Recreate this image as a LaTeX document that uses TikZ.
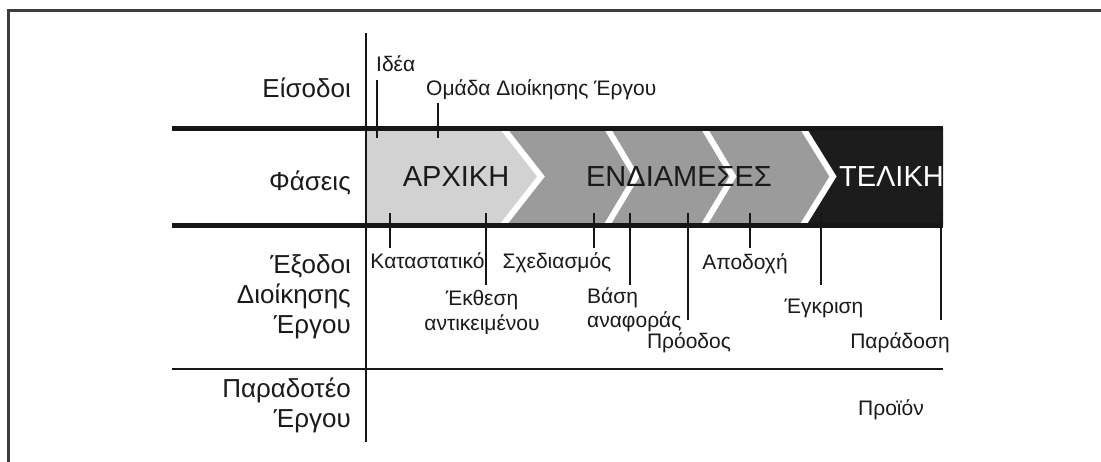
\documentclass[tikz,border=0pt]{standalone}
\usepackage{fontspec}
\setmainfont{Liberation Sans}
\definecolor{lightband}{HTML}{D2D2D2}
\definecolor{midband}{HTML}{9B9B9B}
\definecolor{darkband}{HTML}{1C1C1C}
\definecolor{rulecol}{HTML}{161616}
\definecolor{framecol}{HTML}{3C3C3C}
\definecolor{inkcol}{HTML}{1A1A1A}
\tikzset{
  frameline/.style={draw=framecol, line width=3pt},
  thickrule/.style={draw=rulecol, line width=5pt},
  thinrule/.style={draw=rulecol, line width=2.5pt},
  axisline/.style={draw=rulecol, line width=2.5pt},
  tickline/.style={draw=rulecol, line width=2pt},
  stripe/.style={draw=white, line width=6pt, line join=miter},
  sidelabel/.style={font=\fontsize{26}{30}\selectfont, text=inkcol, inner sep=0pt, anchor=base east},
  phaselabel/.style={font=\fontsize{29}{32}\selectfont, text=inkcol, inner sep=0pt, anchor=base},
  smalllabel/.style={font=\fontsize{21}{24}\selectfont, text=inkcol, inner sep=0pt, anchor=base},
}
\begin{document}
\begin{tikzpicture}[x=1pt, y=-1pt]
\useasboundingbox (0,0) rectangle (1101,461);
\fill[white] (0,0) rectangle (1101,461);

% outer frame
\draw[frameline] (8.5,475) -- (8.5,10.5) -- (1115,10.5);

% phase band
\fill[midband] (366,128) rectangle (943,225);
\fill[lightband] (366,128) -- (503,128) -- (541,176.5) -- (503,225) -- (366,225) -- cycle;
\fill[darkband] (803,128) -- (833,176.5) -- (803,225) -- (943,225) -- (943,128) -- cycle;
\draw[stripe] (503,128) -- (541,176.5) -- (503,225);
\draw[stripe] (607,128) -- (636,176.5) -- (607,225);
\draw[stripe] (704,128) -- (733,176.5) -- (704,225);
\draw[stripe] (803,128) -- (833,176.5) -- (803,225);

% grid lines
\coordinate (r1w) at (172,128);  \coordinate (r1e) at (943,128);
\coordinate (r2w) at (172,225);  \coordinate (r2e) at (943,225);
\coordinate (r3w) at (172,369);  \coordinate (r3e) at (943,369);
\coordinate (axt) at (366,33);   \coordinate (axb) at (366,442);
\draw[thickrule] (r1w) -- (r1e);
\draw[thickrule] (r2w) -- (r2e);
\draw[thinrule] (r3w) -- (r3e);
\draw[axisline] (axt) -- (axb);

% row titles
\node[sidelabel] (inputs) at (351,97) {Είσοδοι};
\node[sidelabel] (phases) at (351,190) {Φάσεις};
\node[sidelabel] (out1) at (351,273) {Έξοδοι};
\node[sidelabel] (out2) at (351,303) {Διοίκησης};
\node[sidelabel] (out3) at (351,333) {Έργου};
\node[sidelabel] (del1) at (351,397) {Παραδοτέο};
\node[sidelabel] (del2) at (351,427) {Έργου};

% phase names
\node[phaselabel] (ph1) at (456,186) {ΑΡΧΙΚΗ};
\node[phaselabel] (ph2) at (679,186) {ΕΝΔΙΑΜΕΣΕΣ};
\node[phaselabel, text=white, anchor=base east] (ph3) at (944,186) {ΤΕΛΙΚΗ};

% inputs
\coordinate (i1t) at (377,80);    \coordinate (i1b) at (377,138);
\coordinate (i2t) at (437.5,103); \coordinate (i2b) at (437.5,138);
\draw[tickline] (i1t) -- (i1b);
\draw[tickline] (i2t) -- (i2b);
\node[smalllabel, anchor=base west] (idea) at (376,71) {Ιδέα};
\node[smalllabel, anchor=base west] (team) at (426,95) {Ομάδα Διοίκησης Έργου};

% management outputs
\foreach \n/\x/\y in {o1/389.5/248, o2/486/285, o3/594/248, o4/630/285,
                      o5/687.5/320, o6/750/248, o7/821/285, o8/941/320}{
  \coordinate (\n t) at (\x,213);
  \coordinate (\n b) at (\x,\y);
  \draw[tickline] (\n t) -- (\n b);
}
\node[smalllabel] (charter) at (427.5,268) {Καταστατικό};
\node[smalllabel] (brief1) at (482,305) {Έκθεση};
\node[smalllabel] (brief2) at (482,330) {αντικειμένου};
\node[smalllabel] (plan) at (557,268) {Σχεδιασμός};
\node[smalllabel, anchor=base west] (base1) at (587,303) {Βάση};
\node[smalllabel, anchor=base west] (base2) at (587,327) {αναφοράς};
\node[smalllabel] (progress) at (689,348) {Πρόοδος};
\node[smalllabel] (accept) at (745,269) {Αποδοχή};
\node[smalllabel] (approve) at (824,313) {Έγκριση};
\node[smalllabel] (handover) at (900,348) {Παράδοση};

% deliverable
\node[smalllabel] (product) at (891,415) {Προϊόν};
\end{tikzpicture}
\end{document}
